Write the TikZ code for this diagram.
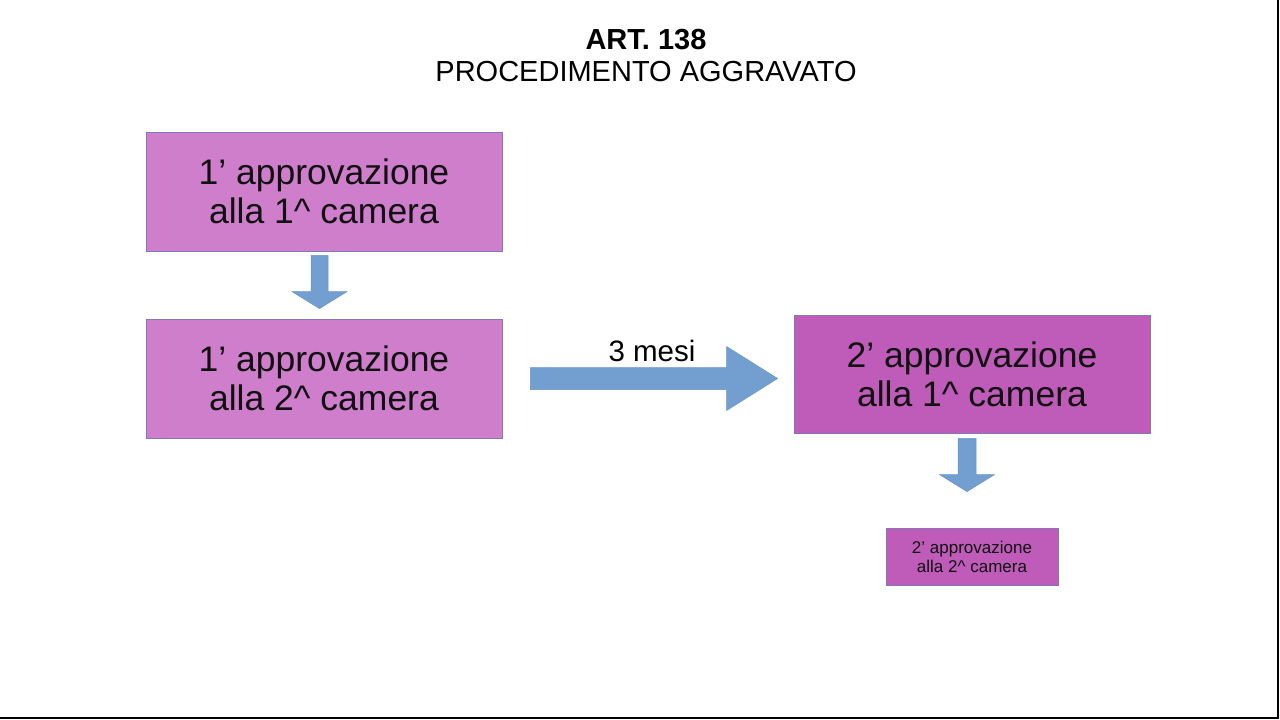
\documentclass[tikz,border=0pt]{standalone}
\usepackage{fontspec}
\setmainfont{Liberation Sans}
\usetikzlibrary{calc}
\definecolor{boxlight}{HTML}{CF7ECC}
\definecolor{boxdark}{HTML}{BF5BB8}
\definecolor{boxline}{HTML}{8477B8}
\definecolor{arrowfill}{HTML}{729FCF}
\definecolor{arrowline}{HTML}{6A95C8}
\definecolor{txt}{HTML}{111111}
\tikzset{
  stagebox/.style={draw=boxline, line width=0.8pt, inner sep=0pt, align=center, text=txt,
    font=\fontsize{35.5}{39}\selectfont},
  lightbox/.style={stagebox, fill=boxlight, minimum width=356pt, minimum height=119pt},
  darkbox/.style={stagebox, fill=boxdark, minimum width=356pt, minimum height=118pt},
  smallbox/.style={stagebox, fill=boxdark, minimum width=172pt, minimum height=57pt,
    font=\fontsize{17}{19}\selectfont},
  blockarrow/.style={fill=arrowfill, draw=arrowline, line width=0.5pt, line join=miter},
  frameline/.style={draw=black, line width=2pt}
}
\begin{document}
\begin{tikzpicture}[x=1pt,y=-1pt]
\useasboundingbox (0,0) rectangle (1280,720);
\fill[white] (0,0) rectangle (1280,720);
\draw[frameline] (1278,0) coordinate (fr1) -- (1278,717.5) coordinate (fr2) -- (0,717.5) coordinate (fr3);

\node[align=center, text=black, font=\fontsize{29}{32}\selectfont] (title) at (646,56)
  {\textbf{ART. 138}\\PROCEDIMENTO AGGRAVATO};

\node[lightbox] (a) at (324,191.5) {1’ approvazione\\alla 1\textasciicircum\ camera};
\node[lightbox] (b) at (324,378.5) {1’ approvazione\\alla 2\textasciicircum\ camera};
\node[darkbox]  (c) at (972,374)   {2’ approvazione\\alla 1\textasciicircum\ camera};
\node[smallbox] (d) at (972,556.5) {2’ approvazione\\alla 2\textasciicircum\ camera};

% down arrow a -> b
\coordinate (a1s) at ($(a.south)+(-4.5,4)$);
\coordinate (a1e) at ($(b.north)+(-4.5,-10)$);
\path[blockarrow] ($(a1s)+(-8.5,0)$) -- ($(a1s)+(8.5,0)$) -- ($(a1e)+(8.5,-17)$) -- ($(a1e)+(27.5,-17)$)
  -- (a1e) -- ($(a1e)+(-27.5,-17)$) -- ($(a1e)+(-8.5,-17)$) -- cycle;

% right arrow b -> c
\coordinate (a2s) at ($(b.east)+(28,0)$);
\coordinate (a2e) at ($(c.west)+(-16,4.5)$);
\path[blockarrow] ($(a2s)+(0,-11)$) -- ($(a2e)+(-51,-11)$) -- ($(a2e)+(-51,-32)$) -- (a2e)
  -- ($(a2e)+(-51,32)$) -- ($(a2e)+(-51,11)$) -- ($(a2s)+(0,11)$) -- cycle;
\node[text=black, font=\fontsize{29.5}{32}\selectfont, anchor=base] (lbl) at (652,361) {3 mesi};

% down arrow c -> d
\coordinate (a3s) at ($(c.south)+(-5,5)$);
\coordinate (a3e) at ($(d.north)+(-5,-36)$);
\path[blockarrow] ($(a3s)+(-9,0)$) -- ($(a3s)+(9,0)$) -- ($(a3e)+(9,-17)$) -- ($(a3e)+(27.5,-17)$)
  -- (a3e) -- ($(a3e)+(-27.5,-17)$) -- ($(a3e)+(-9,-17)$) -- cycle;
\end{tikzpicture}
\end{document}
